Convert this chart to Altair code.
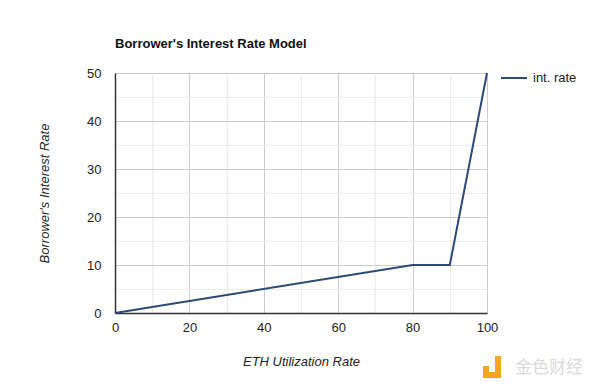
import altair as alt
import pandas as pd

utilization = [0, 80, 90, 100]
rate = [0, 10, 10, 50]
series = ["int. rate"] * len(utilization)

df = pd.DataFrame({"util": utilization, "rate": rate, "series": series})

FONT = "Liberation Sans"

x_axis = alt.Axis(
    values=list(range(0, 101, 10)),
    labelExpr="datum.value % 20 === 0 ? datum.label : ''",
    gridColor={"condition": {"test": "datum.value % 20 === 0", "value": "#cccccc"}, "value": "#ebebeb"},
    ticks=False,
    labelFlush=False,
    domainColor="#333333",
    domainWidth=1.5,
    labelFont=FONT, labelFontSize=13, labelColor="#222222", labelPadding=8,
    title="ETH Utilization Rate", titleFont=FONT, titleFontSize=13,
    titleFontStyle="italic", titleFontWeight="normal", titleColor="#222222",
    titlePadding=21,
)
y_axis = alt.Axis(
    values=list(range(0, 51, 5)),
    labelExpr="datum.value % 10 === 0 ? datum.label : ''",
    gridColor={"condition": {"test": "datum.value % 10 === 0", "value": "#cccccc"}, "value": "#ebebeb"},
    ticks=False,
    labelFlush=False,
    domainColor="#333333",
    domainWidth=1.5,
    labelFont=FONT, labelFontSize=13, labelColor="#222222", labelPadding=14,
    title="Borrower's Interest Rate", titleFont=FONT, titleFontSize=13,
    titleFontStyle="italic", titleFontWeight="normal", titleColor="#222222",
    titlePadding=35,
)

line = alt.Chart(df).mark_line(strokeWidth=2).encode(
    x=alt.X("util:Q", scale=alt.Scale(domain=[0, 100], nice=False), axis=x_axis),
    y=alt.Y("rate:Q", scale=alt.Scale(domain=[0, 50], nice=False), axis=y_axis),
    color=alt.Color(
        "series:N",
        scale=alt.Scale(range=["#2b4a78"]),
        legend=alt.Legend(
            title=None, orient="none", legendX=385, legendY=-9,
            symbolType="stroke", symbolSize=676, symbolStrokeWidth=2,
            labelFont=FONT, labelFontSize=13, labelColor="#222222", labelOffset=5,
        ),
    ),
)

wm = alt.Chart(pd.DataFrame({"t": ["金色财经"]})).mark_text(
    font="Noto Sans CJK SC", fontSize=17, color="#d9d9d9", align="center", baseline="middle"
).encode(x=alt.value(434), y=alt.value(295), text="t:N")

logo_df = pd.DataFrame({"part": ["dot", "stem", "foot"]})
logo = alt.Chart(logo_df).mark_rect(color="#f5a623").encode(
    x=alt.value(368), x2=alt.value(374), y=alt.value(293), y2=alt.value(299)
).transform_filter("datum.part === 'dot'")
logo2 = alt.Chart(logo_df).mark_rect(color="#f5a623").encode(
    x=alt.value(380), x2=alt.value(386), y=alt.value(283), y2=alt.value(305)
).transform_filter("datum.part === 'stem'")
logo3 = alt.Chart(logo_df).mark_rect(color="#f5a623").encode(
    x=alt.value(368), x2=alt.value(386), y=alt.value(299), y2=alt.value(305)
).transform_filter("datum.part === 'foot'")

chart = alt.layer(line, wm, logo, logo2, logo3).properties(
    width=372, height=240,
    autosize=alt.AutoSizeParams(type="none"),
    padding={"left": 107, "top": 65, "right": 105, "bottom": 67},
    title=alt.TitleParams(
        "Borrower's Interest Rate Model", anchor="start", frame="group", font=FONT,
        fontSize=13, fontWeight="bold", color="#111111", offset=13,
    ),
).configure_view(stroke=None).configure(background="white")

chart.save("out.html", embed_options={"renderer": "svg", "actions": False})
